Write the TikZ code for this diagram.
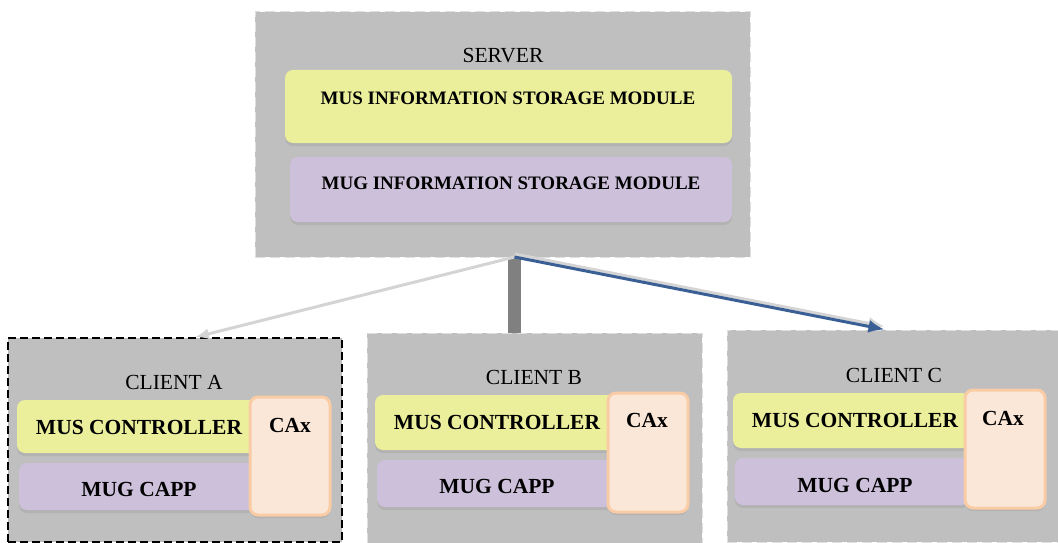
\documentclass[tikz,border=0pt]{standalone}
\usepackage{fontspec}
\setmainfont{Liberation Serif}
\usetikzlibrary{positioning}
\usetikzlibrary{shadows}
\usetikzlibrary{arrows.meta}
\definecolor{boxgray}{HTML}{BFBFBF}
\definecolor{musyellow}{HTML}{EBEF9C}
\definecolor{mugpurple}{HTML}{CCC0DA}
\definecolor{caxfill}{HTML}{FBE7D8}
\definecolor{caxline}{HTML}{F9CCA6}
\definecolor{linkblue}{HTML}{3A5F95}
\definecolor{linkgray}{HTML}{D4D4D4}
\definecolor{bargray}{HTML}{808080}
\tikzset{>=latex}
\tikzstyle{host} = [draw=gray!25, dash pattern=on 10pt off 5pt, fill=boxgray, inner sep=0, line width=1pt]
\tikzstyle{module} = [rounded corners=8pt, inner sep=0, drop shadow={shadow xshift=0pt, shadow yshift=-3pt, fill=black!30, opacity=1}]
\tikzstyle{musbox} = [module, fill=musyellow]
\tikzstyle{mugbox} = [module, fill=mugpurple]
\tikzstyle{caxbox} = [module, fill=caxfill, draw=caxline, line width=3pt]
\tikzstyle{title} = [inner sep=0, font=\fontsize{21.5}{24}\selectfont]
\tikzstyle{bold} = [inner sep=0, font=\fontsize{21.5}{24}\selectfont\bfseries]
\tikzstyle{boldsmall} = [inner sep=0, font=\fontsize{19}{22}\selectfont\bfseries]

\begin{document}
\begin{tikzpicture}[x=1pt, y=-1pt]
\useasboundingbox (0,0) rectangle (1058,543);
% server
\node [host, minimum width=495, minimum height=245] (server) at (502.5, 134.5) {};
\node [musbox, minimum width=447, minimum height=73] (musstore) at (508.5, 106.5) {};
\node [mugbox, minimum width=442, minimum height=65] (mugstore) at (511, 189.5) {};
\node [title] (servert) at (503, 56) {SERVER};
\node [boldsmall] (musstoret) at (508, 98) {MUS INFORMATION STORAGE MODULE};
\node [boldsmall] (mugstoret) at (511, 183) {MUG INFORMATION STORAGE MODULE};
% client A
\node [host, draw=black, line width=1.5pt, dash pattern=on 8pt off 4pt, minimum width=334, minimum height=204] (clienta) at (175, 440) {};
\node [musbox, minimum width=243, minimum height=53] (musa) at (138.5, 426.5) {};
\node [mugbox, minimum width=241, minimum height=47] (muga) at (139.5, 486.5) {};
\node [caxbox, minimum width=80, minimum height=118] (caxa) at (290, 456) {};
\node [title] (clientat) at (174, 382) {CLIENT A};
\node [bold] (musat) at (139, 427) {MUS CONTROLLER};
\node [bold] (mugat) at (139, 489) {MUG CAPP};
\node [bold] (caxat) at (290, 425) {CAx};
% client B
\node [host, minimum width=335, minimum height=210] (clientb) at (534.5, 438) {};
\node [musbox, minimum width=245, minimum height=55] (musb) at (497.5, 422.5) {};
\node [mugbox, minimum width=243, minimum height=47] (mugb) at (498.5, 483.5) {};
\node [caxbox, minimum width=80, minimum height=119] (caxb) at (648, 452.5) {};
\node [title] (clientbt) at (534, 377) {CLIENT B};
\node [bold] (musbt) at (497, 422) {MUS CONTROLLER};
\node [bold] (mugbt) at (497, 486) {MUG CAPP};
\node [bold] (caxbt) at (647, 420) {CAx};
% client C
\node [host, minimum width=331, minimum height=212] (clientc) at (892.5, 436) {};
\node [musbox, minimum width=237, minimum height=55] (musc) at (851.5, 420.5) {};
\node [mugbox, minimum width=235, minimum height=47] (mugc) at (852.5, 481.5) {};
\node [caxbox, minimum width=80, minimum height=118] (caxc) at (1005, 449) {};
\node [title] (clientct) at (894, 375) {CLIENT C};
\node [bold] (musct) at (855, 420) {MUS CONTROLLER};
\node [bold] (mugct) at (855, 485) {MUG CAPP};
\node [bold] (caxct) at (1003, 418) {CAx};
% links
\coordinate (hub) at (514.5, 257);
\draw [bargray, line width=13pt] (hub) -- (hub |- clientb.north);
\draw [-{Latex[length=14pt, width=11pt]}, linkgray, line width=3pt] (hub) -- ([xshift=20pt]clienta.north);
\draw [-{Latex[length=16pt, width=13pt]}, linkgray, line width=3pt] ([yshift=3pt]hub) -- ([xshift=-8pt, yshift=3pt]clientc.north);
\draw [-{Latex[length=16pt, width=13pt]}, linkblue, line width=3pt] (hub) -- ([xshift=-8pt]clientc.north);
\end{tikzpicture}
\end{document}
